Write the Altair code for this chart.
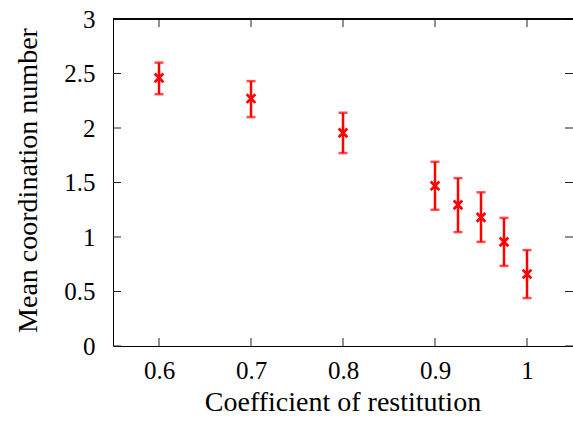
import altair as alt
import pandas as pd

restitution = [0.6, 0.7, 0.8, 0.9, 0.925, 0.95, 0.975, 1.0]
mean_cn = [2.46, 2.27, 1.955, 1.47, 1.295, 1.18, 0.955, 0.66]
err_lo = [2.31, 2.10, 1.77, 1.25, 1.045, 0.955, 0.735, 0.44]
err_hi = [2.60, 2.43, 2.14, 1.69, 1.54, 1.41, 1.175, 0.88]
x_ticks = [0.6, 0.7, 0.8, 0.9, 1.0]
y_ticks = [0, 0.5, 1, 1.5, 2, 2.5, 3]
x_title = ["Coefficient of restitution"]
y_title = ["Mean coordination number"]

W, H = 460, 327
FONT = "Times New Roman, Liberation Serif, Times, serif"
RED = "#ff0000"

df = pd.DataFrame({"e": restitution, "m": mean_cn, "lo": err_lo, "hi": err_hi})
xt = pd.DataFrame({"t": x_ticks})
yt = pd.DataFrame({"t": y_ticks})

xscale = alt.Scale(domain=[0.55, 1.05], nice=False, zero=False)
yscale = alt.Scale(domain=[0, 3], nice=False, zero=False)

xaxis = alt.Axis(values=x_ticks, title=None, grid=False,
                 ticks=False, tickSize=0, domainColor="black", domainWidth=1,
                 labelFont=FONT, labelFontSize=25, labelColor="black", labelPadding=12,
                 labelExpr="datum.value == 1 ? '1' : format(datum.value, '.1f')")
yaxis = alt.Axis(values=y_ticks, title=None, grid=False,
                 ticks=False, tickSize=0, domainColor="black", domainWidth=1,
                 labelFont=FONT, labelFontSize=25, labelColor="black", labelPadding=18,
                 labelExpr="format(datum.value, '')")

base = alt.Chart(df)

bars = base.mark_rule(color=RED, strokeWidth=2.5).encode(
    x=alt.X("e:Q", scale=xscale, axis=xaxis),
    y=alt.Y("lo:Q", scale=yscale, axis=yaxis),
    y2="hi:Q",
)
cap_lo = base.mark_tick(color=RED, orient="horizontal", size=9, thickness=2.5).encode(
    x=alt.X("e:Q", scale=xscale), y=alt.Y("lo:Q", scale=yscale))
cap_hi = base.mark_tick(color=RED, orient="horizontal", size=9, thickness=2.5).encode(
    x=alt.X("e:Q", scale=xscale), y=alt.Y("hi:Q", scale=yscale))
pts = base.mark_point(shape="M-1,-1L1,1M-1,1L1,-1", color=RED, strokeWidth=2.7,
                      size=75, filled=False, opacity=1).encode(
    x=alt.X("e:Q", scale=xscale), y=alt.Y("m:Q", scale=yscale))

tick_style = dict(color="#222222", strokeWidth=1)
xt_bot = alt.Chart(xt).mark_rule(**tick_style).encode(
    x=alt.X("t:Q", scale=xscale), y=alt.value(H), y2=alt.value(H - 8))
xt_top = alt.Chart(xt).mark_rule(**tick_style).encode(
    x=alt.X("t:Q", scale=xscale), y=alt.value(0), y2=alt.value(8))
yt_left = alt.Chart(yt).mark_rule(**tick_style).encode(
    y=alt.Y("t:Q", scale=yscale), x=alt.value(0), x2=alt.value(8))
yt_right = alt.Chart(yt).mark_rule(**tick_style).encode(
    y=alt.Y("t:Q", scale=yscale), x=alt.value(W), x2=alt.value(W - 8))
top_border = alt.Chart(xt).mark_rule(color="black", strokeWidth=1).encode(
    x=alt.value(0), x2=alt.value(W), y=alt.value(0))

xtitle = alt.Chart(pd.DataFrame({"s": x_title})).mark_text(
    font=FONT, fontSize=28, color="black", align="center", baseline="alphabetic"
).encode(text="s:N", x=alt.value(W / 2), y=alt.value(392))
ytitle = alt.Chart(pd.DataFrame({"s": y_title})).mark_text(
    font=FONT, fontSize=28, color="black", align="center", baseline="alphabetic", angle=270
).encode(text="s:N", x=alt.value(-76), y=alt.value(H / 2 - 2))

chart = alt.layer(bars, cap_lo, cap_hi, pts, xt_bot, xt_top, yt_left, yt_right, top_border,
                  xtitle, ytitle).properties(
    width=W, height=H,
    autosize=alt.AutoSizeParams(type="none"),
    padding={"left": 113, "top": 19, "right": 0, "bottom": 75},
    background="white",
).configure(font=FONT).configure_view(stroke=None)

chart.save("out.html", embed_options={"renderer": "svg", "actions": False})
